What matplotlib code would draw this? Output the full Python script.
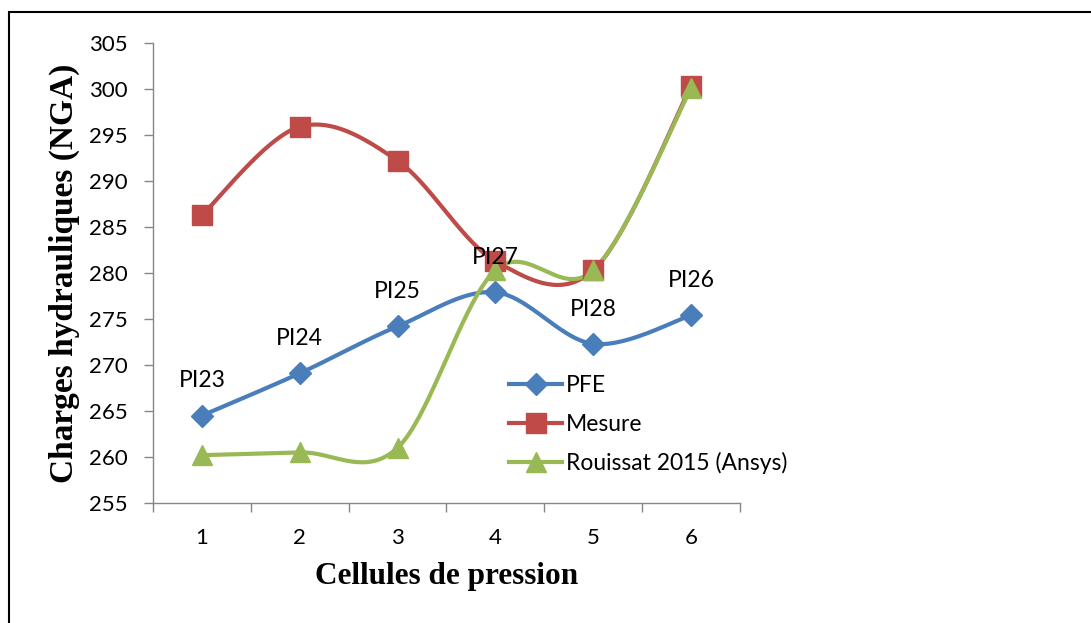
import numpy as np
import matplotlib.pyplot as plt
from matplotlib.patches import Rectangle
from matplotlib.lines import Line2D

cells = [1, 2, 3, 4, 5, 6]
pfe = [264.5, 269.1, 274.2, 277.9, 272.3, 275.4]
mesure = [286.3, 295.9, 292.2, 281.3, 280.3, 300.3]
rouissat = [260.2, 260.5, 261.0, 280.3, 280.3, 300.1]
point_labels = ["PI23", "PI24", "PI25", "PI27", "PI28", "PI26"]

BLUE = "#4A7EBB"
RED = "#BE4B48"
GREEN = "#98B954"
TICK_FONT = "Lato"


def smooth(xs, ys, n=40):
    # spreadsheet-style smoothed line: cubic Bezier between points,
    # control points from neighbouring points (Catmull-Rom)
    p = np.column_stack([xs, ys]).astype(float)
    p = np.vstack([p[0], p, p[-1]])
    out = []
    t = np.linspace(0, 1, n)[:, None]
    for i in range(1, len(p) - 2):
        p0, p1, p2, p3 = p[i - 1], p[i], p[i + 1], p[i + 2]
        c1 = p1 + (p2 - p0) / 6
        c2 = p2 - (p3 - p1) / 6
        seg = ((1 - t) ** 3) * p1 + 3 * ((1 - t) ** 2) * t * c1 \
            + 3 * (1 - t) * t ** 2 * c2 + t ** 3 * p2
        out.append(seg if i == 1 else seg[1:])
    seg = np.vstack(out)
    return seg[:, 0], seg[:, 1]


fig = plt.figure(figsize=(10.91, 6.23), dpi=100)
ax = fig.add_axes([0.1402, 0.1926, 0.5381, 0.7384])

series = [
    (pfe, BLUE, "D", 11.5, "PFE"),
    (mesure, RED, "s", 14, "Mesure"),
    (rouissat, GREEN, "^", 14.5, "Rouissat 2015 (Ansys)"),
]
handles = []
for vals, col, mk, ms, name in series:
    sx, sy = smooth(cells, vals)
    ax.plot(sx, sy, color=col, lw=3, solid_capstyle="round", zorder=2)
    ax.plot(cells, vals, ls="none", marker=mk, ms=ms, color=col, zorder=3)
    handles.append(Line2D([], [], color=col, lw=3, marker=mk, ms=ms))

for x, y, lab in zip(cells, pfe, point_labels):
    ax.annotate(lab, (x, y), xytext=(0, 25), textcoords="offset points",
                ha="center", va="center", fontsize=16.5, family=TICK_FONT)

ax.set_xlim(0.5, 6.5)
ax.set_ylim(255, 305)
ax.set_yticks(np.arange(255, 306, 5))
ax.set_xticks(cells)
ax.set_xticks(np.arange(0.5, 6.6, 1), minor=True)
ax.tick_params(axis="x", which="major", length=0, pad=18, labelsize=16)
ax.tick_params(axis="x", which="minor", length=6.5, color="#868686", width=1)
ax.tick_params(axis="y", length=6.5, color="#868686", width=1, pad=12, labelsize=16)
for lbl in ax.get_xticklabels() + ax.get_yticklabels():
    lbl.set_family(TICK_FONT)

for s in ["top", "right"]:
    ax.spines[s].set_visible(False)
for s in ["left", "bottom"]:
    ax.spines[s].set_color("#868686")
    ax.spines[s].set_linewidth(1)

ax.set_xlabel("Cellules de pression", family="Liberation Serif",
              fontweight="bold", fontsize=22.5, labelpad=10)
ax.set_ylabel("Charges hydrauliques (NGA)", family="Liberation Serif",
              fontweight="bold", fontsize=24, labelpad=6)

leg = fig.legend(handles, [s[4] for s in series], loc="upper left",
                 bbox_to_anchor=(0.448, 0.431), frameon=False,
                 handlelength=2.3, handletextpad=0.15, labelspacing=0.77,
                 prop={"family": TICK_FONT, "size": 16.5})

# outer chart border
fig.patches.append(Rectangle((9 / 1091, -0.05), 1.1, 1 - 12 / 623 + 0.05,
                             transform=fig.transFigure, fill=False,
                             edgecolor="black", lw=1.5))

fig.savefig("out.png", dpi=100)
